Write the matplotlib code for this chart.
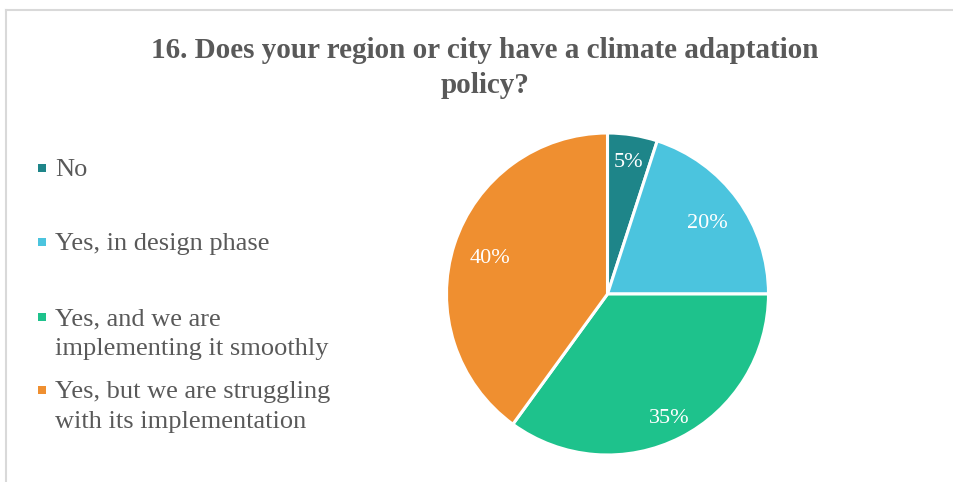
import matplotlib
matplotlib.use("Agg")
import matplotlib.pyplot as plt
from matplotlib.lines import Line2D
from matplotlib.patches import Rectangle
import numpy as np

title_lines = ["16. Does your region or city have a climate adaptation", "policy?"]
categories = [
    "No",
    "Yes, in design phase",
    "Yes, and we are\nimplementing it smoothly",
    "Yes, but we are struggling\nwith its implementation",
]
shares = [5, 20, 35, 40]
colors = ["#1e8589", "#4bc4de", "#1ec28c", "#ef8f30"]
label_dist = [0.84, 0.77, 0.85, 0.77]

W, H = 954, 482
fig = plt.figure(figsize=(W / 100, H / 100), dpi=100)
plt.rcParams["font.family"] = ["Liberation Serif", "DejaVu Serif"]
text_col = "#595959"


def fy(py):
    """pixel row from the top -> figure fraction"""
    return 1 - py / H


# chart frame (top and left edges)
fig.add_artist(Line2D([6 / W, 1], [fy(10), fy(10)], color="#d9d9d9", lw=1.5))
fig.add_artist(Line2D([6 / W, 6 / W], [0, fy(10)], color="#d9d9d9", lw=1.5))

for line, base in zip(title_lines, [58, 93]):
    fig.text(485 / W, fy(base), line, ha="center", va="baseline", fontsize=21,
             fontweight="bold", color=text_col)

# pie
cx, cy, r = 607.5, 294, 161
ax = fig.add_axes([(cx - r) / W, (H - cy - r) / H, 2 * r / W, 2 * r / H])
ax.pie(shares, colors=colors, startangle=90, counterclock=False,
       radius=1, wedgeprops=dict(edgecolor="white", linewidth=2.2))
ax.set_xlim(-1, 1)
ax.set_ylim(-1, 1)
ax.set_aspect("equal")
ax.axis("off")

total = sum(shares)
start = 90.0
for v, d in zip(shares, label_dist):
    span = 360.0 * v / total
    mid = np.deg2rad(start - span / 2)
    ax.text(d * np.cos(mid), d * np.sin(mid), f"{v}%", ha="center",
            va="center_baseline", fontsize=16, color="white")
    start -= span

# legend
legend_base = [176, 250, 325, 398]
line_gap = 30
for lab, c, base in zip(categories, colors, legend_base):
    fig.add_artist(Rectangle((38 / W, fy(base - 4)), 8 / W, 8 / H,
                             transform=fig.transFigure, color=c, lw=0))
    for i, part in enumerate(lab.split("\n")):
        fig.text(55 / W, fy(base + i * line_gap), part, ha="left", va="baseline",
                 fontsize=19, color=text_col)

fig.savefig("out.png", dpi=100)
